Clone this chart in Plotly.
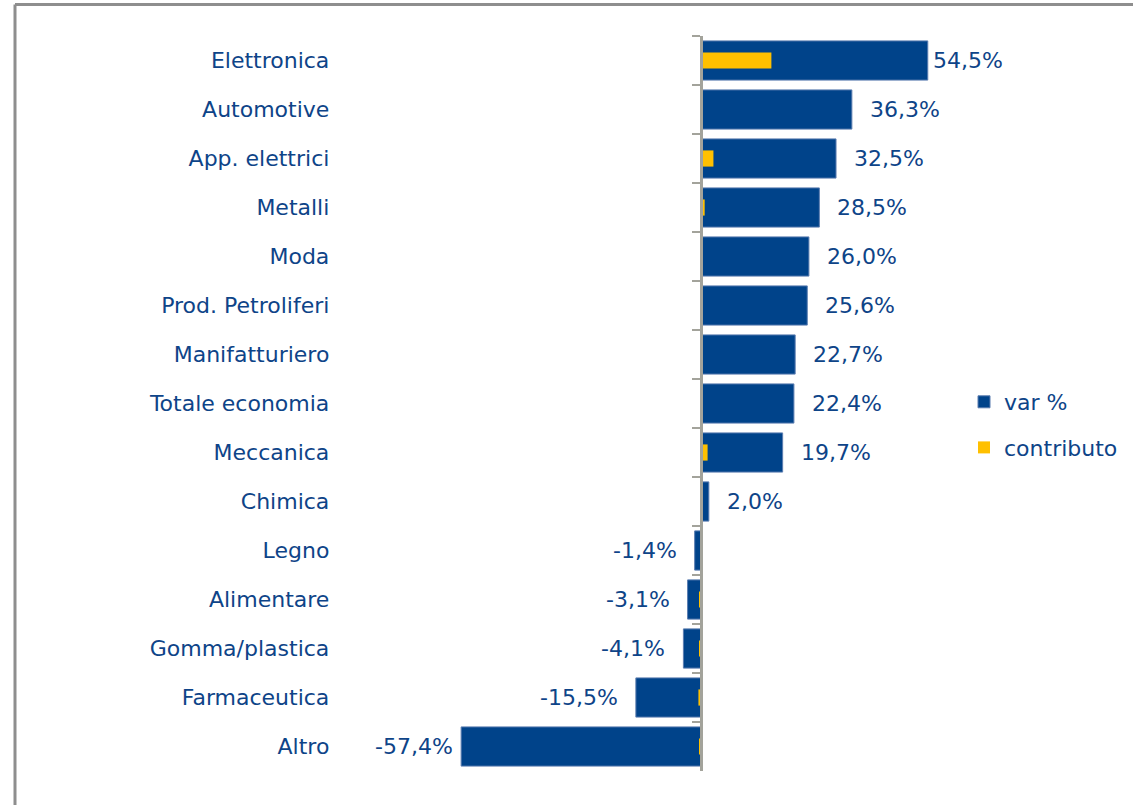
import plotly.graph_objects as go

# Sector data: year-on-year change (%) and contribution to the total (p.p.)
settori = [
    "Elettronica", "Automotive", "App. elettrici", "Metalli", "Moda",
    "Prod. Petroliferi", "Manifatturiero", "Totale economia", "Meccanica",
    "Chimica", "Legno", "Alimentare", "Gomma/plastica", "Farmaceutica", "Altro",
]
var_pct = [54.5, 36.3, 32.5, 28.5, 26.0, 25.6, 22.7, 22.4, 19.7,
           2.0, -1.4, -3.1, -4.1, -15.5, -57.4]
contributo = [17.0, 0.3, 3.1, 1.0, 0.3, 0.1, None, None, 1.7,
              0.2, -0.1, -0.3, -0.2, -0.5, -0.3]

BLUE = "#00438A"
YELLOW = "#FFC000"
TEXT = "#0E4488"
AXIS = "#A3A39B"
FONT = "DejaVu Sans"

# plot-area geometry (pixels); the legend sits inside the plot area
W, H = 1133, 805
ML, MR, MT, MB = 340, 0, 36, 34
PX_PER_UNIT = 4.17
ZERO_PX = 700.5
plot_w = W - ML - MR
plot_h = H - MT - MB
x_range = [(ML - ZERO_PX) / PX_PER_UNIT, (W - MR - ZERO_PX) / PX_PER_UNIT]
zero_pos = (ZERO_PX - ML) / plot_w

fig = go.Figure()
fig.add_trace(go.Bar(
    y=settori, x=var_pct, orientation="h", name="var %",
    marker=dict(color=BLUE, line=dict(color="#5B7DB0", width=1)),
    width=0.8, legendgroup="a",
))
fig.add_trace(go.Bar(
    y=settori, x=contributo, orientation="h", name="contributo",
    marker=dict(color=YELLOW, line=dict(width=0)),
    width=0.33, legendgroup="b",
))

# value labels next to the end of each bar
label_gap = {"Elettronica": 3, "Altro": 6}
for s, v in zip(settori, var_pct):
    gap = label_gap.get(s, 16)
    fig.add_annotation(
        x=v, y=s, text=f"{v:.1f}%".replace(".", ","), showarrow=False,
        xanchor="left" if v >= 0 else "right",
        xshift=gap if v >= 0 else -gap,
        font=dict(family=FONT, size=22, color=TEXT),
    )

# outer frame (top and left edges)
frame_y = 1 + (MT - 4.5) / plot_h
frame_x = (15 - ML) / plot_w
fig.add_shape(type="line", xref="paper", yref="paper",
              x0=frame_x, x1=1, y0=frame_y, y1=frame_y,
              line=dict(color="#8E8E8E", width=3))
fig.add_shape(type="line", xref="paper", yref="paper",
              x0=frame_x, x1=frame_x, y0=frame_y, y1=-MB / plot_h,
              line=dict(color="#8E8E8E", width=3))

fig.update_layout(
    width=W, height=H,
    margin=dict(l=ML, r=MR, t=MT, b=MB),
    paper_bgcolor="white", plot_bgcolor="white",
    barmode="overlay",
    font=dict(family=FONT, size=22, color=TEXT),
    xaxis=dict(range=x_range, visible=False, fixedrange=True),
    yaxis=dict(
        autorange="reversed", anchor="free", position=zero_pos,
        showline=True, linecolor=AXIS, linewidth=2.5,
        ticks="outside", ticklen=8, tickwidth=2, tickcolor=AXIS,
        tickson="boundaries", showgrid=False, automargin=False,
        ticklabelstandoff=366,
        tickfont=dict(family=FONT, size=22, color=TEXT),
    ),
    legend=dict(
        x=(964 - ML) / plot_w, y=(MT + plot_h - 425) / plot_h,
        xanchor="left", yanchor="middle",
        traceorder="grouped", tracegroupgap=14,
        font=dict(family=FONT, size=22, color=TEXT),
        bgcolor="rgba(0,0,0,0)",
    ),
    showlegend=True,
)

fig.write_html("out.html")
